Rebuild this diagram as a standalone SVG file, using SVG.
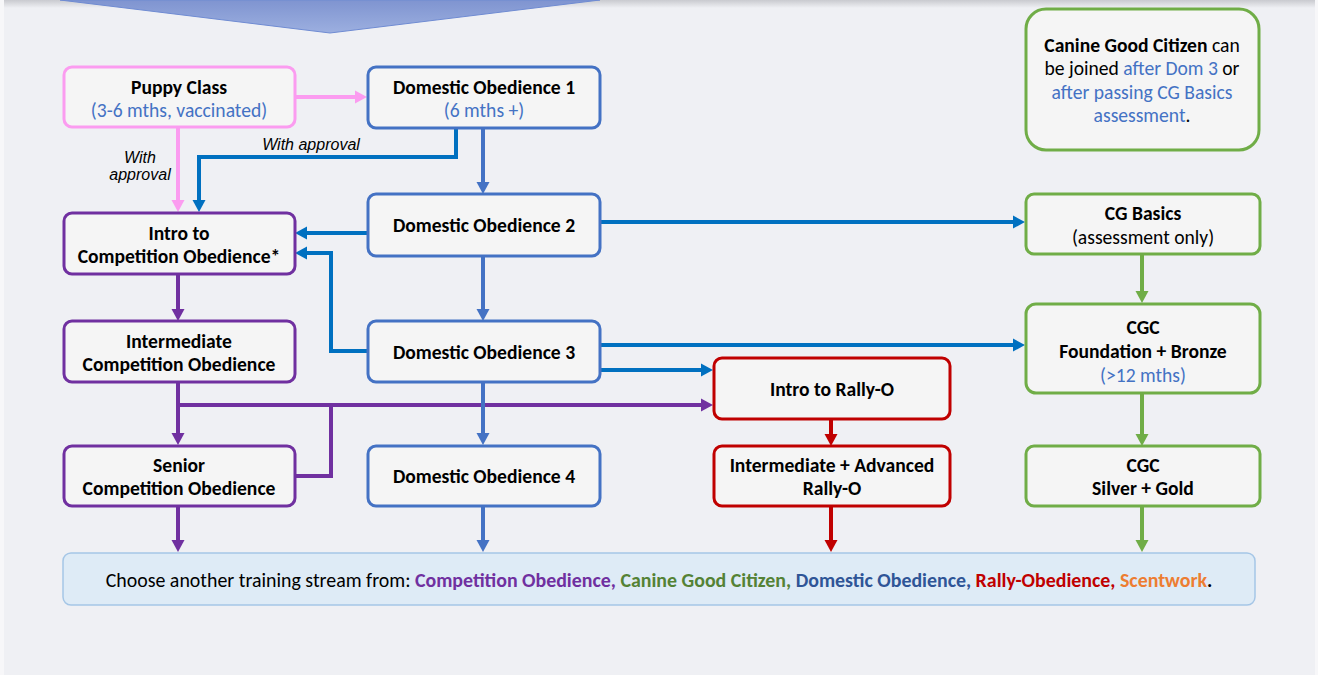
<svg xmlns="http://www.w3.org/2000/svg" width="1318" height="675" viewBox="0 0 1318 675">
<defs>
<style>
.box{fill:#f5f5f5;stroke-width:3}
.pink{stroke:#fb9cf0}
.dblue{stroke:#4472c4}
.purple{stroke:#7030a0}
.green{stroke:#70ad47}
.red{stroke:#c00000}
text{font-family:Carlito,Calibri,Lato,"Open Sans",sans-serif;font-size:19.6px;fill:#000;text-anchor:middle}
.b{font-weight:bold}
.sub{fill:#4472c4}
.it{font-family:"Liberation Sans",Arial,sans-serif;font-style:italic;font-size:16px}
.ln{fill:none;stroke-width:4}
</style>
<linearGradient id="top" x1="0" y1="0" x2="0" y2="1">
<stop offset="0" stop-color="#c9cacf"/>
<stop offset="1" stop-color="#eff0f4"/>
</linearGradient>
<linearGradient id="chev" x1="0" y1="0" x2="0" y2="1">
<stop offset="0" stop-color="#7f94d0"/>
<stop offset="1" stop-color="#9cafe0"/>
</linearGradient>
<marker id="aPink" viewBox="0 -7 12 14" refX="0" refY="0" markerWidth="12" markerHeight="14" markerUnits="userSpaceOnUse" orient="auto"><path d="M0,-6.5L12,0L0,6.5z" fill="#fb9cf0"/></marker>
<marker id="aBlue" viewBox="0 -7 12 14" refX="0" refY="0" markerWidth="12" markerHeight="14" markerUnits="userSpaceOnUse" orient="auto"><path d="M0,-6.5L12,0L0,6.5z" fill="#0070c0"/></marker>
<marker id="aDBlue" viewBox="0 -7 12 14" refX="0" refY="0" markerWidth="12" markerHeight="14" markerUnits="userSpaceOnUse" orient="auto"><path d="M0,-6.5L12,0L0,6.5z" fill="#4472c4"/></marker>
<marker id="aPurple" viewBox="0 -7 12 14" refX="0" refY="0" markerWidth="12" markerHeight="14" markerUnits="userSpaceOnUse" orient="auto"><path d="M0,-6.5L12,0L0,6.5z" fill="#7030a0"/></marker>
<marker id="aGreen" viewBox="0 -7 12 14" refX="0" refY="0" markerWidth="12" markerHeight="14" markerUnits="userSpaceOnUse" orient="auto"><path d="M0,-6.5L12,0L0,6.5z" fill="#70ad47"/></marker>
<marker id="aRed" viewBox="0 -7 12 14" refX="0" refY="0" markerWidth="12" markerHeight="14" markerUnits="userSpaceOnUse" orient="auto"><path d="M0,-6.5L12,0L0,6.5z" fill="#c00000"/></marker>
</defs>

<rect x="0" y="0" width="1318" height="675" fill="#f7f7f9"/>
<rect x="4" y="0" width="1311" height="675" fill="#eff0f4"/>
<rect x="4" y="0" width="1311" height="8" fill="url(#top)"/>
<polygon points="60,0 600,0 330,33" fill="url(#chev)" stroke="#6f8bd2" stroke-width="1"/>

<g id="connectors">
<path class="ln" d="M295,97H355" stroke="#fb9cf0" marker-end="url(#aPink)"/>
<path class="ln" d="M178,127V200" stroke="#fb9cf0" marker-end="url(#aPink)"/>
<path class="ln" d="M456,128V157H199V200" stroke="#0070c0" marker-end="url(#aBlue)"/>
<path class="ln" d="M483,128V182" stroke="#4472c4" marker-end="url(#aDBlue)"/>
<path class="ln" d="M367,233H307" stroke="#0070c0" marker-end="url(#aBlue)"/>
<path class="ln" d="M367,351H331V253H307" stroke="#0070c0" marker-end="url(#aBlue)"/>
<path class="ln" d="M483,256V309" stroke="#4472c4" marker-end="url(#aDBlue)"/>
<path class="ln" d="M600,222H1013" stroke="#0070c0" marker-end="url(#aBlue)"/>
<path class="ln" d="M1142,254V291" stroke="#70ad47" marker-end="url(#aGreen)"/>
<path class="ln" d="M600,345H1013" stroke="#0070c0" marker-end="url(#aBlue)"/>
<path class="ln" d="M600,370H701" stroke="#0070c0" marker-end="url(#aBlue)"/>
<path class="ln" d="M178,274V309" stroke="#7030a0" marker-end="url(#aPurple)"/>
<path class="ln" d="M178,382V433" stroke="#7030a0" marker-end="url(#aPurple)"/>
<path class="ln" d="M178,405H701" stroke="#7030a0" marker-end="url(#aPurple)"/>
<path class="ln" d="M295,476H331V405" stroke="#7030a0"/>
<path class="ln" d="M483,382V433" stroke="#4472c4" marker-end="url(#aDBlue)"/>
<path class="ln" d="M831,419V434" stroke="#c00000" marker-end="url(#aRed)"/>
<path class="ln" d="M1142,393V434" stroke="#70ad47" marker-end="url(#aGreen)"/>
<path class="ln" d="M178,506V540" stroke="#7030a0" marker-end="url(#aPurple)"/>
<path class="ln" d="M483,506V540" stroke="#4472c4" marker-end="url(#aDBlue)"/>
<path class="ln" d="M831,506V540" stroke="#c00000" marker-end="url(#aRed)"/>
<path class="ln" d="M1142,506V540" stroke="#70ad47" marker-end="url(#aGreen)"/>
<text class="it" x="140" y="163">With</text>
<text class="it" x="140" y="180">approval</text>
<text class="it" x="311" y="150">With approval</text>
</g>

<g id="puppy">
<rect class="box pink" x="64" y="67" width="231" height="60" rx="8"/>
<text class="b" x="179" y="94">Puppy Class</text>
<text class="sub" x="179" y="117">(3-6 mths, vaccinated)</text>
</g>
<g id="dom1">
<rect class="box dblue" x="368" y="67" width="232" height="61" rx="8"/>
<text class="b" x="484" y="94">Domestic Obedience 1</text>
<text class="sub" x="484" y="117">(6 mths +)</text>
</g>
<g id="dom2">
<rect class="box dblue" x="368" y="194" width="232" height="62" rx="8"/>
<text class="b" x="484" y="232">Domestic Obedience 2</text>
</g>
<g id="dom3">
<rect class="box dblue" x="368" y="321" width="232" height="61" rx="8"/>
<text class="b" x="484" y="359">Domestic Obedience 3</text>
</g>
<g id="dom4">
<rect class="box dblue" x="368" y="446" width="232" height="60" rx="8"/>
<text class="b" x="484" y="483">Domestic Obedience 4</text>
</g>
<g id="introComp">
<rect class="box purple" x="64" y="213" width="231" height="61" rx="8"/>
<text class="b" x="179" y="240">Intro to</text>
<text class="b" x="179" y="263">Competition Obedience*</text>
</g>
<g id="interComp">
<rect class="box purple" x="64" y="321" width="231" height="61" rx="8"/>
<text class="b" x="179" y="348">Intermediate</text>
<text class="b" x="179" y="371">Competition Obedience</text>
</g>
<g id="seniorComp">
<rect class="box purple" x="64" y="446" width="231" height="60" rx="8"/>
<text class="b" x="179" y="472">Senior</text>
<text class="b" x="179" y="495">Competition Obedience</text>
</g>
<g id="introRally">
<rect class="box red" x="714" y="358" width="236" height="61" rx="8"/>
<text class="b" x="832" y="396">Intro to Rally-O</text>
</g>
<g id="advRally">
<rect class="box red" x="714" y="446" width="236" height="60" rx="8"/>
<text class="b" x="832" y="472">Intermediate + Advanced</text>
<text class="b" x="832" y="495">Rally-O</text>
</g>
<g id="cgBasics">
<rect class="box green" x="1026" y="194" width="234" height="60" rx="8"/>
<text class="b" x="1143" y="220">CG Basics</text>
<text x="1143" y="244">(assessment only)</text>
</g>
<g id="cgcBronze">
<rect class="box green" x="1026" y="304" width="234" height="89" rx="10"/>
<text class="b" x="1143" y="334">CGC</text>
<text class="b" x="1143" y="358">Foundation + Bronze</text>
<text class="sub" x="1143" y="382">(&gt;12 mths)</text>
</g>
<g id="cgcGold">
<rect class="box green" x="1026" y="446" width="234" height="60" rx="8"/>
<text class="b" x="1143" y="472">CGC</text>
<text class="b" x="1143" y="495">Silver + Gold</text>
</g>
<g id="note">
<rect class="box green" x="1026" y="9" width="233" height="141" rx="20"/>
<text x="1142" y="52"><tspan class="b">Canine Good Citizen</tspan> can</text>
<text x="1142" y="75">be joined <tspan class="sub">after Dom 3</tspan> or</text>
<text x="1142" y="99"><tspan class="sub">after passing CG Basics</tspan></text>
<text x="1142" y="122"><tspan class="sub">assessment</tspan>.</text>
</g>
<g id="streams">
<rect x="63" y="553" width="1192" height="52" rx="8" fill="#deebf6" stroke="#a5c6e6" stroke-width="1.5"/>
<text x="659" y="587" style="font-size:19.9px">Choose another training stream from: <tspan class="b" fill="#7030a0">Competition Obedience,</tspan> <tspan class="b" fill="#548235">Canine Good Citizen,</tspan> <tspan class="b" fill="#2f5597">Domestic Obedience,</tspan> <tspan class="b" fill="#c00000">Rally-Obedience,</tspan> <tspan class="b" fill="#ed7d31">Scentwork</tspan><tspan class="b">.</tspan></text>
</g>
</svg>
